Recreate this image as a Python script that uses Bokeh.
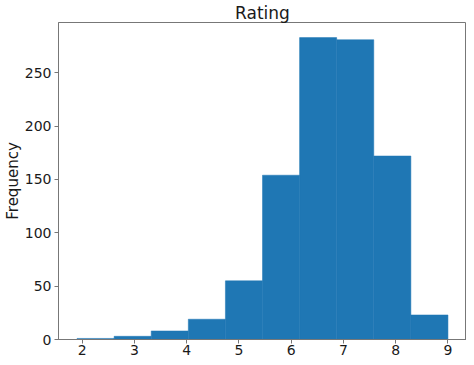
from bokeh.plotting import figure
from bokeh.models import Range1d, FixedTicker
from bokeh.embed import file_html
from bokeh.resources import INLINE

# data
bin_edges = [1.9, 2.61, 3.32, 4.03, 4.74, 5.45, 6.16, 6.87, 7.58, 8.29, 9.0]
counts = [1, 3, 8, 19, 55, 154, 283, 281, 172, 23]
x_ticks = [2, 3, 4, 5, 6, 7, 8, 9]
y_ticks = [0, 50, 100, 150, 200, 250]
title_text = "Rating"
y_label = "Frequency"

xmin, xmax = bin_edges[0], bin_edges[-1]
pad = (xmax - xmin) * 0.05
ytop = max(counts) * 1.05

p = figure(width=466, height=357, output_backend="svg",
           toolbar_location=None, title=title_text,
           x_range=Range1d(xmin - pad, xmax + pad),
           y_range=Range1d(0, ytop),
           min_border_left=0, min_border_right=0,
           min_border_top=0, min_border_bottom=0)

p.quad(left=bin_edges[:-1], right=bin_edges[1:], top=counts, bottom=0,
       fill_color="#1f77b4", line_color="#1f77b4", line_width=0.5)

p.title.align = "center"
p.title.text_font = "DejaVu Sans"
p.title.text_font_size = "17px"
p.title.text_font_style = "normal"
p.title.text_color = "#1a1a1a"
p.title.standoff = 0
p.title.offset = 0

p.xgrid.visible = False
p.ygrid.visible = False
p.outline_line_color = "#777777"
p.outline_line_width = 1
p.background_fill_color = "white"
p.border_fill_color = "white"

for ax in (p.xaxis, p.yaxis):
    ax.axis_line_color = "#777777"
    ax.major_tick_line_color = "#777777"
    ax.major_tick_out = 4
    ax.major_tick_in = 0
    ax.minor_tick_line_color = None
    ax.major_label_text_font = "DejaVu Sans"
    ax.major_label_text_font_size = "14px"
    ax.major_label_text_color = "#1a1a1a"

p.xaxis.ticker = FixedTicker(ticks=x_ticks)
p.yaxis.ticker = FixedTicker(ticks=y_ticks)
p.xaxis.major_label_standoff = 1
p.yaxis.major_label_standoff = 3

p.yaxis.axis_label = y_label
p.yaxis.axis_label_text_font = "DejaVu Sans"
p.yaxis.axis_label_text_font_size = "15px"
p.yaxis.axis_label_text_font_style = "normal"
p.yaxis.axis_label_text_color = "#1a1a1a"
p.yaxis.axis_label_standoff = 0

open("out.html", "w").write(file_html(p, INLINE))
